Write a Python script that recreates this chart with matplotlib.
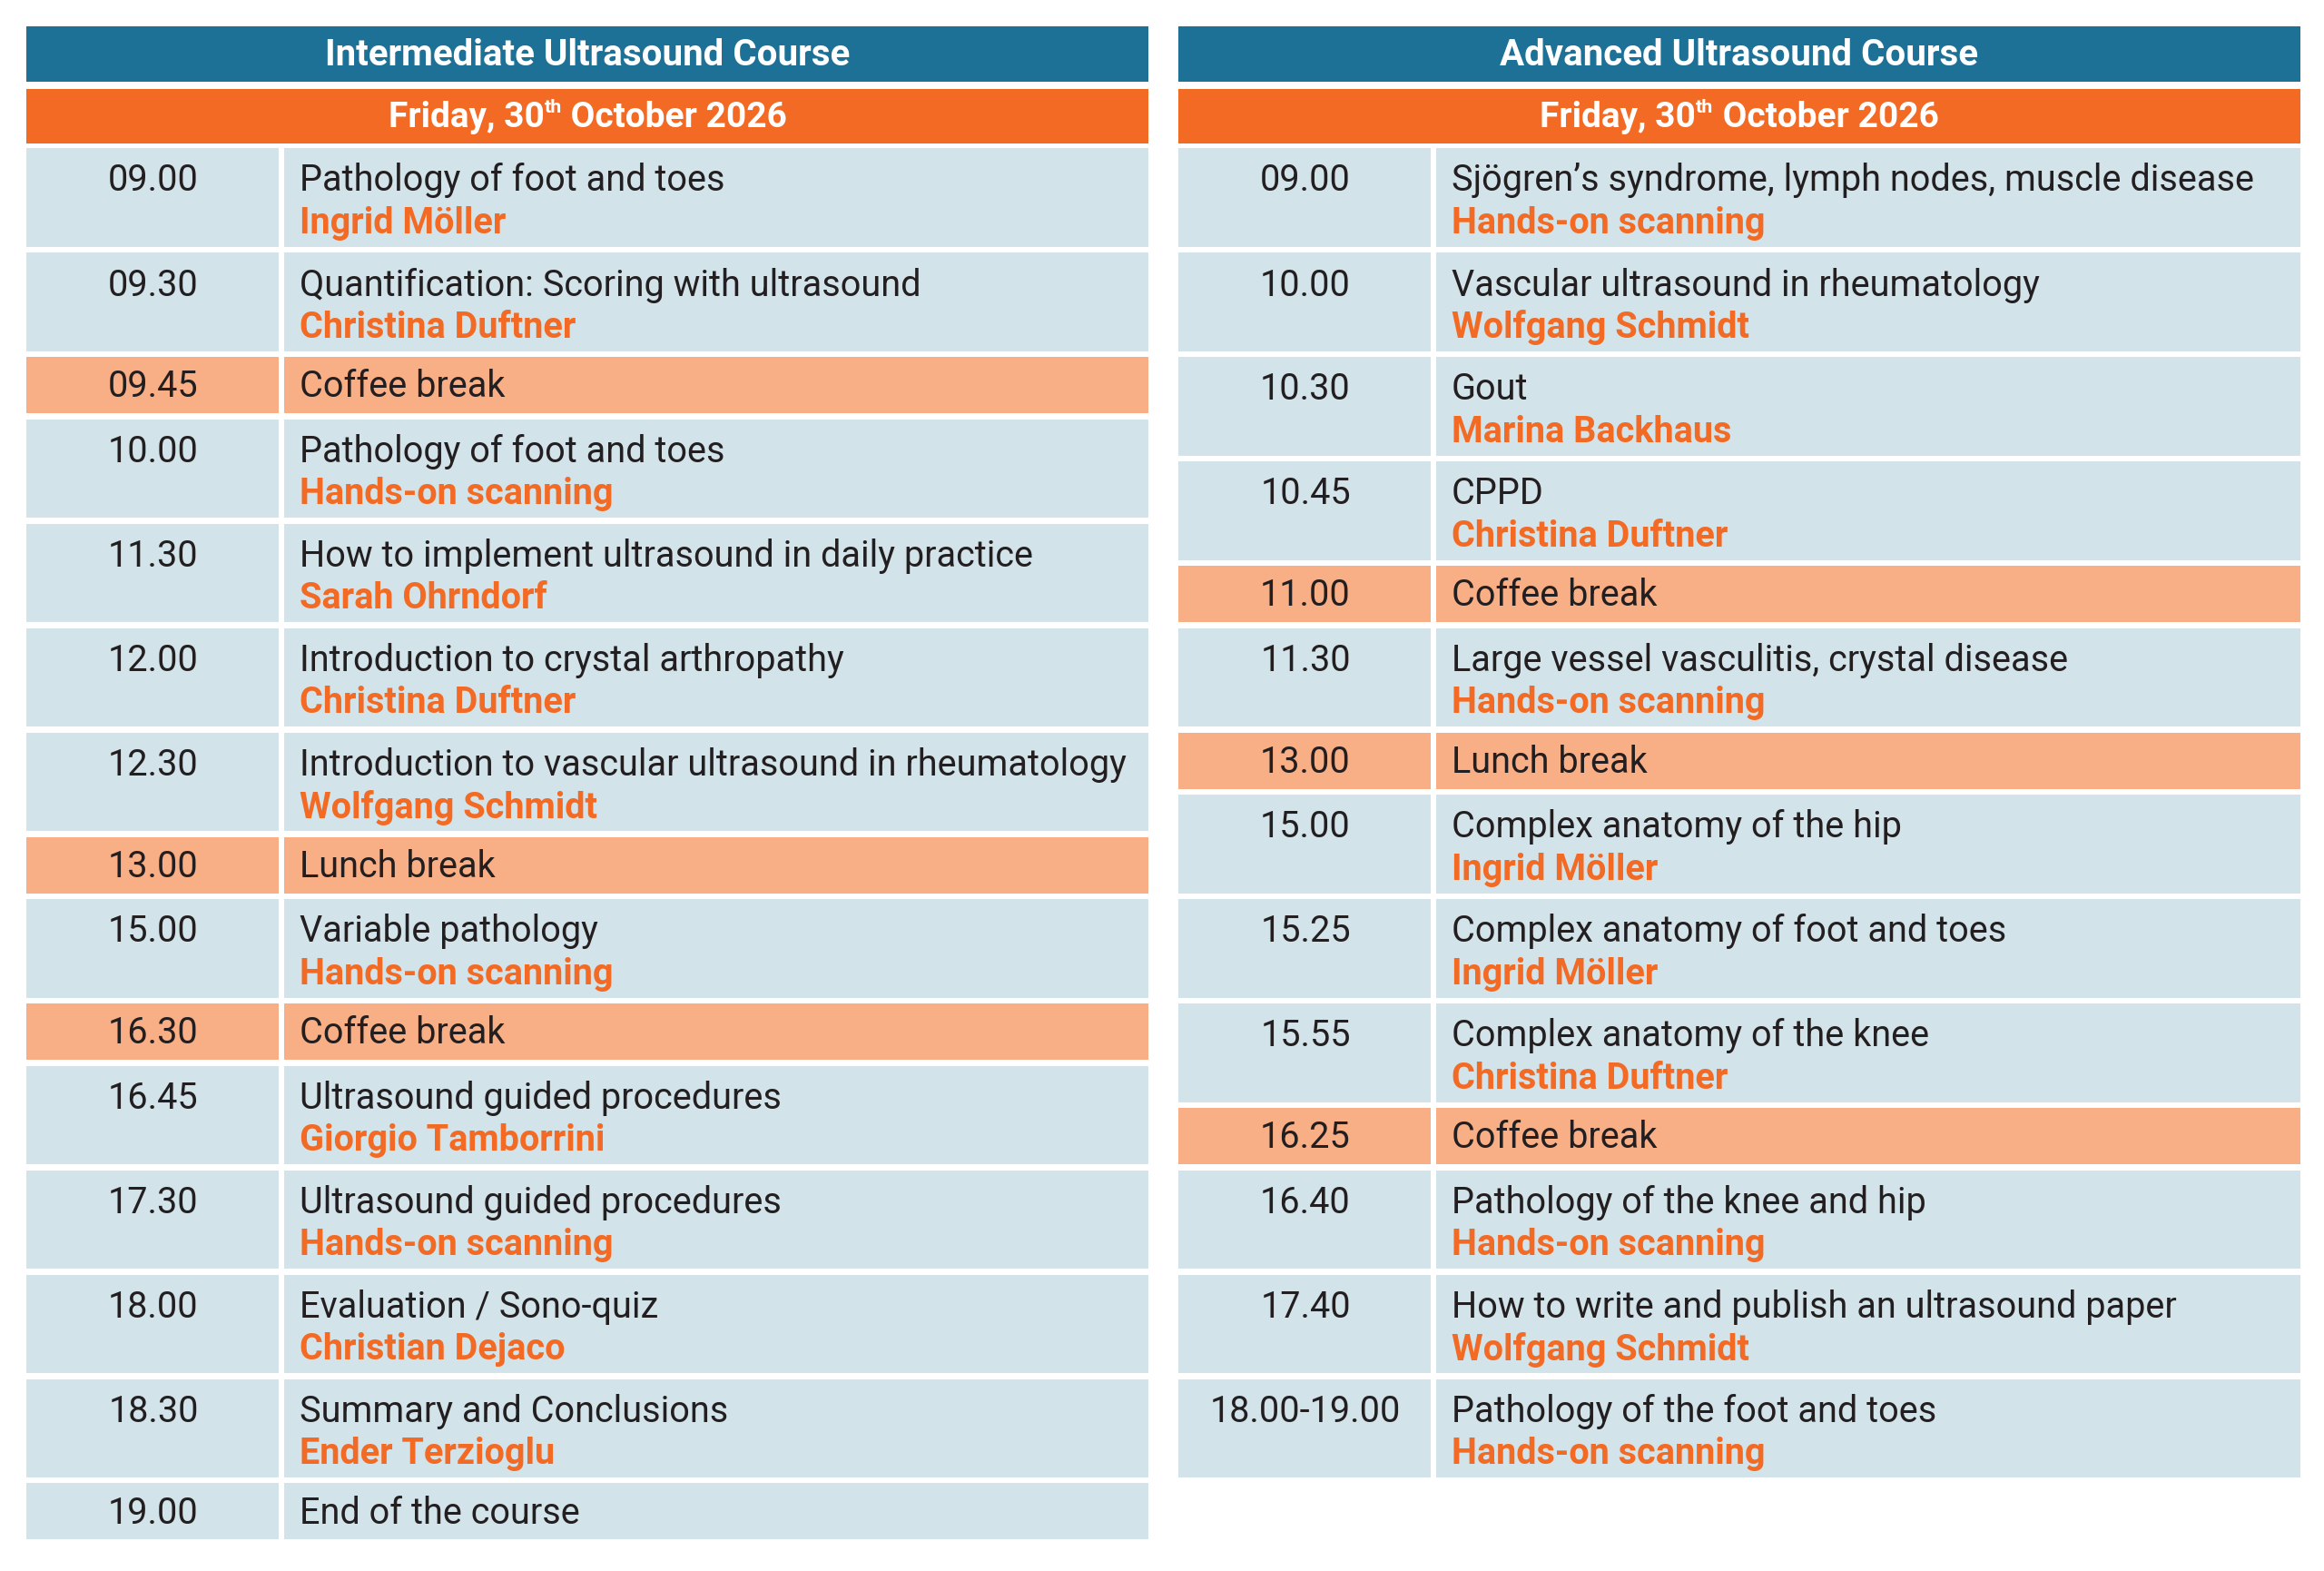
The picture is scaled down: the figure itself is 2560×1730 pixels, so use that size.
"""Two-column course programme (intermediate / advanced ultrasound)."""

import matplotlib.pyplot as plt
from matplotlib.patches import Rectangle

plt.rcParams["font.family"] = ["Roboto", "DejaVu Sans"]

BLUE = "#1d7196"
ORANGE = "#f26a23"
ROW = "#d3e3ea"
BREAK = "#f9af86"
INK = "#231f20"

DATE_MAIN = "Friday, 30"
DATE_SUP = "th"
DATE_REST = " October 2026"

left_title = "Intermediate Ultrasound Course"
left_times = ["09.00", "09.30", "09.45", "10.00", "11.30", "12.00", "12.30",
              "13.00", "15.00", "16.30", "16.45", "17.30", "18.00", "18.30", "19.00"]
left_topics = ["Pathology of foot and toes",
               "Quantification: Scoring with ultrasound",
               "Coffee break",
               "Pathology of foot and toes",
               "How to implement ultrasound in daily practice",
               "Introduction to crystal arthropathy",
               "Introduction to vascular ultrasound in rheumatology",
               "Lunch break",
               "Variable pathology",
               "Coffee break",
               "Ultrasound guided procedures",
               "Ultrasound guided procedures",
               "Evaluation / Sono-quiz",
               "Summary and Conclusions",
               "End of the course"]
left_speakers = ["Ingrid Möller", "Christina Duftner", None, "Hands-on scanning",
                 "Sarah Ohrndorf", "Christina Duftner", "Wolfgang Schmidt", None,
                 "Hands-on scanning", None, "Giorgio Tamborrini", "Hands-on scanning",
                 "Christian Dejaco", "Ender Terzioglu", None]
left_breaks = [False, False, True, False, False, False, False,
               True, False, True, False, False, False, False, False]

right_title = "Advanced Ultrasound Course"
right_times = ["09.00", "10.00", "10.30", "10.45", "11.00", "11.30", "13.00",
               "15.00", "15.25", "15.55", "16.25", "16.40", "17.40", "18.00-19.00"]
right_topics = ["Sjögren’s syndrome, lymph nodes, muscle disease",
                "Vascular ultrasound in rheumatology",
                "Gout",
                "CPPD",
                "Coffee break",
                "Large vessel vasculitis, crystal disease",
                "Lunch break",
                "Complex anatomy of the hip",
                "Complex anatomy of foot and toes",
                "Complex anatomy of the knee",
                "Coffee break",
                "Pathology of the knee and hip",
                "How to write and publish an ultrasound paper",
                "Pathology of the foot and toes"]
right_speakers = ["Hands-on scanning", "Wolfgang Schmidt", "Marina Backhaus",
                  "Christina Duftner", None, "Hands-on scanning", None,
                  "Ingrid Möller", "Ingrid Möller", "Christina Duftner", None,
                  "Hands-on scanning", "Wolfgang Schmidt", "Hands-on scanning"]
right_breaks = [False, False, False, False, True, False, True,
                False, False, False, True, False, False, False]

W, H = 2560, 1731
fig = plt.figure(figsize=(W / 100, H / 100), dpi=100)
ax = fig.add_axes([0, 0, 1, 1])
ax.set_xlim(0, W)
ax.set_ylim(H, 0)
ax.axis("off")

FS = 28.5
FS_HEAD = 29
FS_DATE = 28
TALL, SHORT, GAP = 108.5, 62, 6.5


def date_line(xc, yc):
    # "30th" with a small superscript, laid out piece by piece
    r = fig.canvas.get_renderer()
    parts = [(DATE_MAIN, FS_DATE, 0), (DATE_SUP, FS_DATE * 0.55, -11),
             (DATE_REST, FS_DATE, 0)]
    arts = [ax.text(0, yc, s, fontsize=fs, fontweight="bold", color="white",
                    va="center", ha="left") for s, fs, _ in parts]
    inv = ax.transData.inverted()
    widths = []
    for a in arts:
        bb = a.get_window_extent(r)
        widths.append(inv.transform((bb.x1, 0))[0] - inv.transform((bb.x0, 0))[0])
    x = xc - sum(widths) / 2
    for a, w, (_, _, dy) in zip(arts, widths, parts):
        a.set_position((x, yc + dy))
        x += w


def course(x0, title, times, topics, speakers, breaks):
    x1 = x0 + 1236
    split = x0 + 278
    ax.add_patch(Rectangle((x0, 30), x1 - x0, 61, color=BLUE, lw=0))
    ax.text((x0 + x1) / 2, 61, title, ha="center", va="center",
            fontsize=FS_HEAD, fontweight="bold", color="white")
    ax.add_patch(Rectangle((x0, 99), x1 - x0, 60, color=ORANGE, lw=0))
    date_line((x0 + x1) / 2, 129)

    y = 164
    for t, topic, spk, brk in zip(times, topics, speakers, breaks):
        h = TALL if spk else SHORT
        fc = BREAK if brk else ROW
        ax.add_patch(Rectangle((x0, y), split - x0, h, color=fc, lw=0))
        ax.add_patch(Rectangle((split + 6, y), x1 - split - 6, h, color=fc, lw=0))
        ty = y + 35 if spk else y + h / 2 + 1
        ax.text((x0 + split) / 2 + 1, ty, t, ha="center", va="center",
                fontsize=FS, color=INK)
        ax.text(split + 23, ty, topic, ha="left", va="center",
                fontsize=FS, color=INK)
        if spk:
            ax.text(split + 23, y + 82, spk, ha="left", va="center",
                    fontsize=FS, fontweight="bold", color=ORANGE)
        y += h + GAP


course(29, left_title, left_times, left_topics, left_speakers, left_breaks)
course(1298, right_title, right_times, right_topics, right_speakers, right_breaks)

fig.savefig("out.png", dpi=100)
